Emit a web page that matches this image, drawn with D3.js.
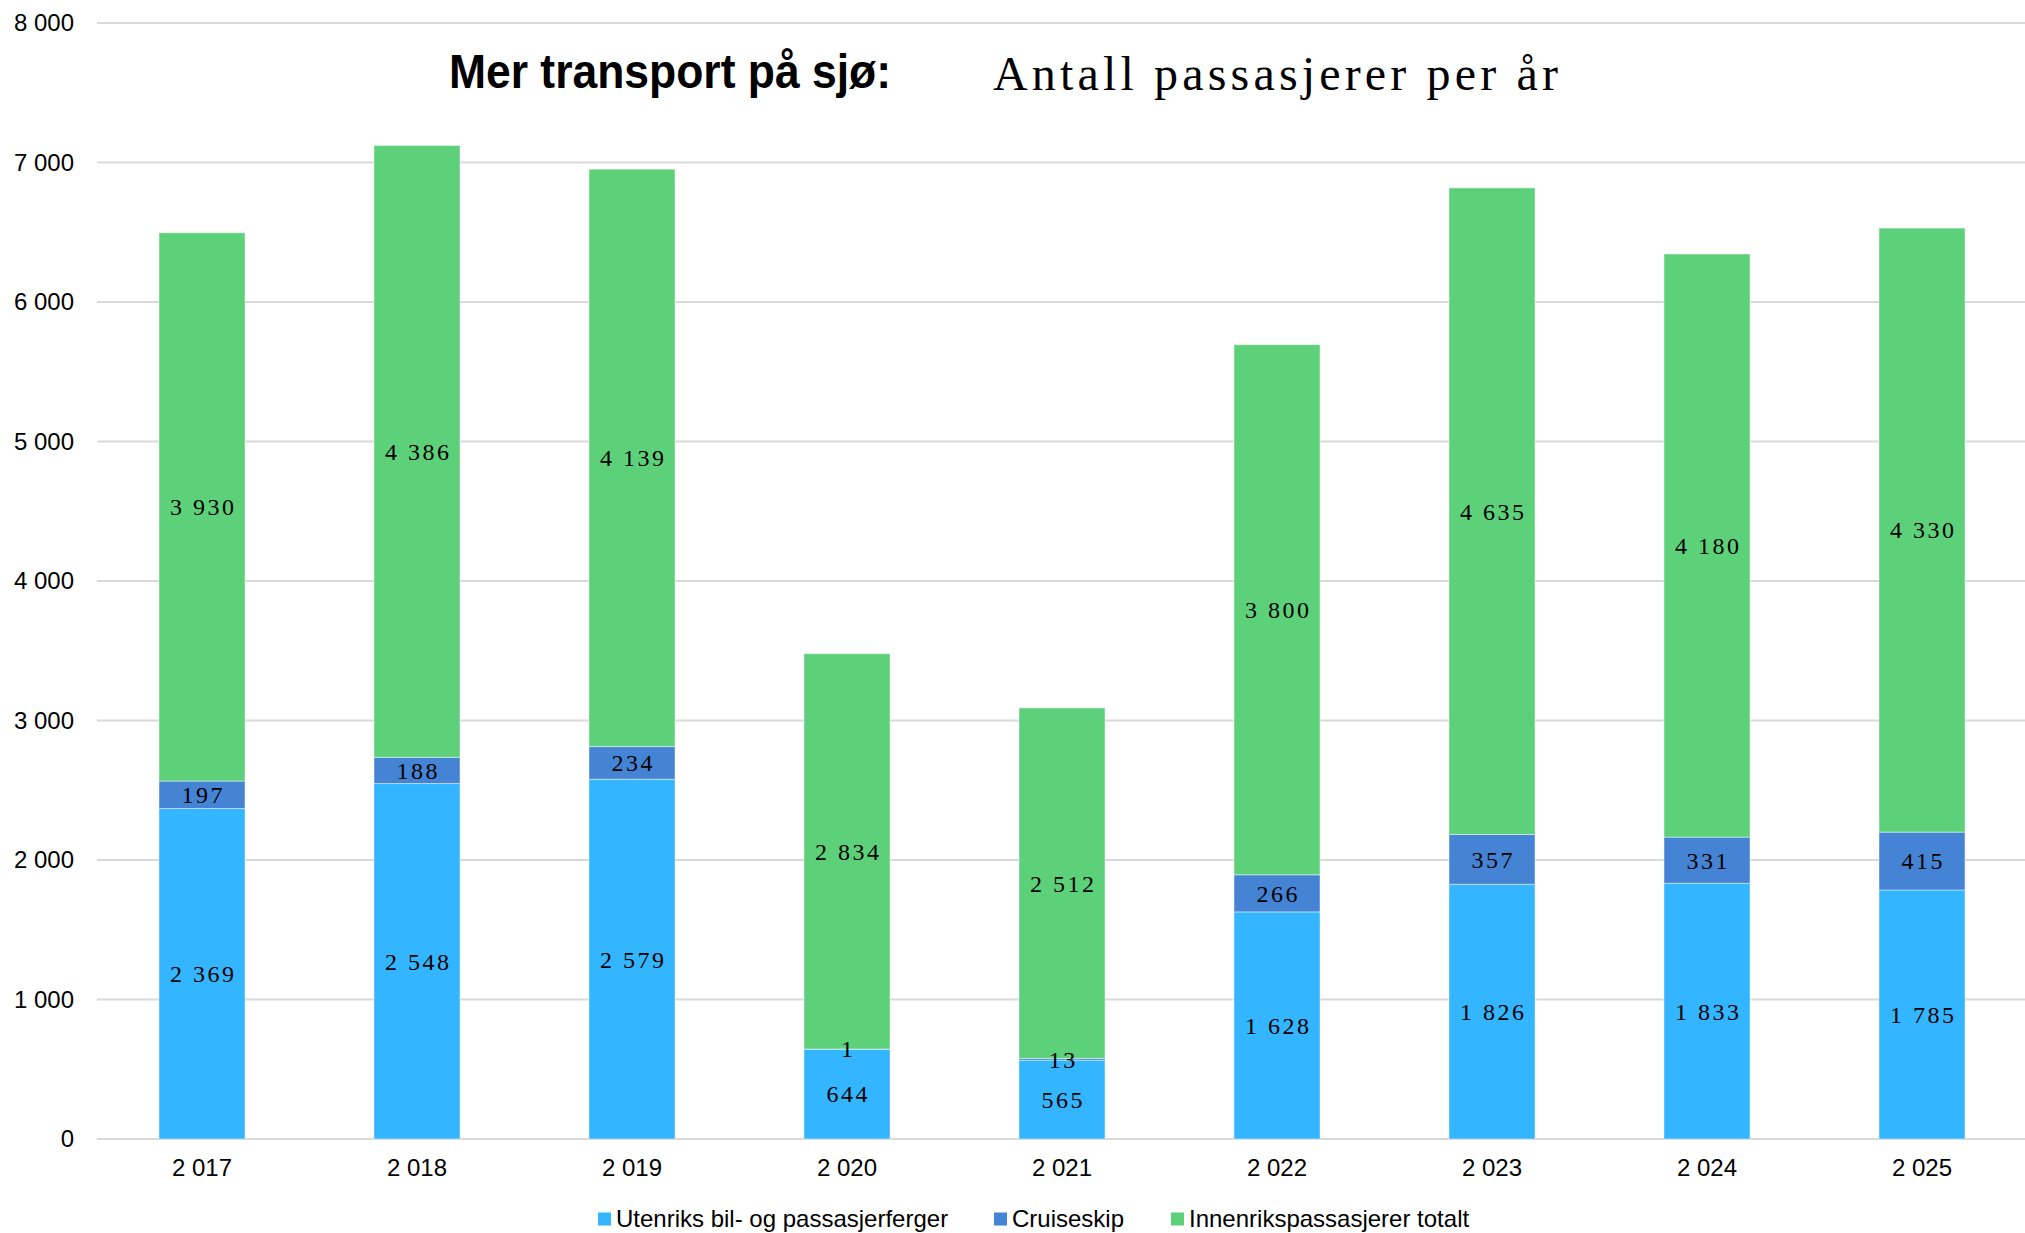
<!DOCTYPE html>
<html><head><meta charset="utf-8">
<script src="https://cdn.jsdelivr.net/npm/d3@7"></script>
<style>
html,body{margin:0;padding:0;background:#fff;}
svg{display:block;}
</style></head>
<body>
<svg id="chart" width="2025" height="1233"></svg>
<script>
const years = ["2 017","2 018","2 019","2 020","2 021","2 022","2 023","2 024","2 025"];
const utenriks = [2369,2548,2579,644,565,1628,1826,1833,1785];
const cruise = [197,188,234,1,13,266,357,331,415];
const innenriks = [3930,4386,4139,2834,2512,3800,4635,4180,4330];
const seriesNames = ["Utenriks bil- og passasjerferger","Cruiseskip","Innenrikspassasjerer totalt"];
const yTicks = [0,1000,2000,3000,4000,5000,6000,7000,8000];

const colors = ["#33B5FF","#4584D4","#5DD17A"];
const svg = d3.select("#chart");
const W = 2025;
const fmt = v => d3.format(",")(v).replace(/,/g," ");

const y = d3.scaleLinear().domain([0,8000]).range([1139,23]);
const x = d3.scaleBand().domain(years).range([94.5,2029.5]).paddingInner(0.6).paddingOuter(0.3);

// gridlines
svg.append("g").selectAll("line").data(yTicks).join("line")
  .attr("x1",97).attr("x2",W).attr("y1",d=>y(d)).attr("y2",d=>y(d))
  .attr("stroke","#D9D9D9").attr("stroke-width",2);

// y labels
svg.append("g").selectAll("text").data(yTicks).join("text")
  .attr("x",74).attr("y",d=>y(d)).attr("dy","0.35em").attr("text-anchor","end")
  .attr("font-family","'Liberation Sans', Arial, sans-serif").attr("font-size",24).attr("fill","#000")
  .text(d=>fmt(d));

// stack
const rows = years.map((yr,i)=>({year:yr, s0:utenriks[i], s1:cruise[i], s2:innenriks[i]}));
const stack = d3.stack().keys(["s0","s1","s2"])(rows);

const layers = svg.append("g").selectAll("g").data(stack).join("g")
  .attr("fill",(d,i)=>colors[i]);
layers.selectAll("rect").data(d=>d).join("rect")
  .attr("x",d=>x(d.data.year)).attr("width",x.bandwidth())
  .attr("y",d=>y(d[1])).attr("height",d=>y(d[0])-y(d[1]))
  .attr("stroke","rgba(255,255,255,0.45)").attr("stroke-width",1);

// data labels
const lbl = svg.append("g");
stack.forEach(layer=>{
  layer.forEach(d=>{
    lbl.append("text")
      .attr("x",x(d.data.year)+x.bandwidth()/2+1.2)
      .attr("y",(y(d[0])+y(d[1]))/2).attr("dy","0.35em")
      .attr("text-anchor","middle")
      .attr("font-family","'Liberation Serif','Times New Roman',serif")
      .attr("font-size",24).attr("letter-spacing",2.5).attr("fill","#000")
      .text(fmt(d[1]-d[0]));
  });
});

// x labels
svg.append("g").selectAll("text").data(years).join("text")
  .attr("x",d=>x(d)+x.bandwidth()/2).attr("y",1176).attr("text-anchor","middle")
  .attr("font-family","'Liberation Sans', Arial, sans-serif").attr("font-size",24).attr("fill","#000")
  .text(d=>d);

// title
svg.append("text").attr("x",449).attr("y",88)
  .attr("font-family","'Liberation Sans', Arial, sans-serif").attr("font-weight","bold")
  .attr("font-size",49).attr("textLength",442).attr("lengthAdjust","spacingAndGlyphs")
  .attr("fill","#000").text("Mer transport på sjø:");
svg.append("text").attr("x",993).attr("y",90)
  .attr("font-family","'Liberation Serif','Times New Roman',serif")
  .attr("font-size",48).attr("textLength",565).attr("lengthAdjust","spacing")
  .attr("fill","#000").text("Antall passasjerer per år");

// legend
const legX = [598,994,1171];
const leg = svg.append("g").selectAll("g").data(seriesNames).join("g")
  .attr("transform",(d,i)=>`translate(${legX[i]},1219)`);
leg.append("rect").attr("x",0).attr("y",-6.5).attr("width",13).attr("height",13).attr("fill",(d,i)=>colors[i]);
leg.append("text").attr("x",18).attr("y",0).attr("dy","0.35em")
  .attr("font-family","'Liberation Sans', Arial, sans-serif").attr("font-size",24).attr("fill","#000")
  .text(d=>d);
</script>
</body></html>
